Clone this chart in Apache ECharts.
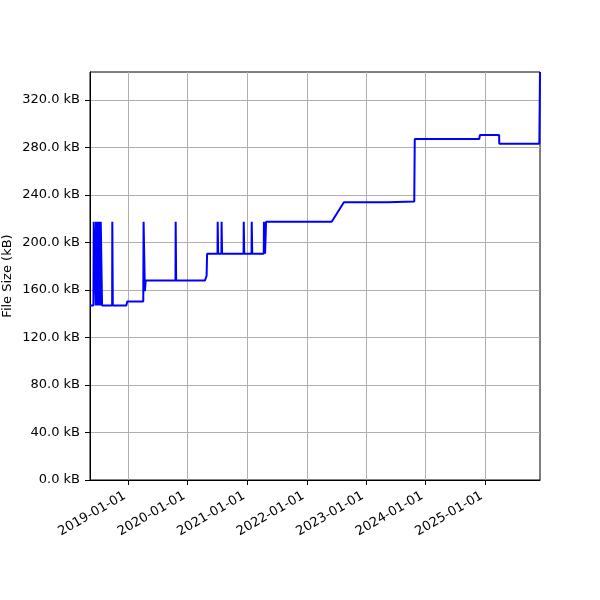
<!DOCTYPE html>
<html>
<head>
<meta charset="utf-8">
<script src="https://cdn.jsdelivr.net/npm/echarts@6/dist/echarts.min.js"></script>
<style>
html,body{margin:0;padding:0;background:#fff;}
#chart{width:600px;height:600px;}
</style>
</head>
<body>
<div id="chart"></div>
<script>
// ---- data ----
const dates = [
  '2018-05-11','2018-06-01','2018-06-03','2018-06-15','2018-06-16','2018-06-17',
  '2018-06-24','2018-06-25','2018-06-26','2018-07-03','2018-07-04','2018-07-05',
  '2018-07-14','2018-07-15','2018-07-16','2018-07-22','2018-07-24',
  '2018-09-24','2018-09-25','2018-09-27','2018-09-28',
  '2018-12-20','2018-12-26',
  '2019-04-03','2019-04-05','2019-04-11','2019-04-13','2019-04-18',
  '2019-10-18','2019-10-19','2019-10-21','2019-10-22',
  '2020-04-16','2020-04-26','2020-04-29',
  '2020-07-02','2020-07-03','2020-07-05','2020-07-06',
  '2020-07-26','2020-07-27','2020-07-29','2020-07-30',
  '2020-12-09','2020-12-10','2020-12-12','2020-12-13',
  '2021-01-27','2021-01-28','2021-01-30','2021-01-31',
  '2021-04-12','2021-04-13','2021-04-19','2021-04-20','2021-04-25','2021-04-26',
  '2022-06-03','2022-08-17',
  '2023-05-14','2023-05-16',
  '2023-10-23','2023-10-26',
  '2024-11-25','2024-11-29',
  '2025-03-27','2025-03-28',
  '2025-11-29','2025-12-03'
];
const sizes = [
  147, 147, 217.5, 217.5, 147, 217.5,
  217.5, 147, 217.5, 217.5, 147, 217.5,
  217.5, 147, 217.5, 217.5, 147,
  147, 217.5, 217.5, 147,
  147, 150.4,
  150.4, 217.5, 217.5, 159, 168.1,
  168.1, 217.5, 217.5, 168.1,
  168.1, 172, 190.6,
  190.6, 217.5, 217.5, 190.6,
  190.6, 217.5, 217.5, 190.6,
  190.6, 217.5, 217.5, 190.6,
  190.6, 217.5, 217.5, 190.6,
  190.6, 217.5, 217.5, 190.6, 190.6, 217.5,
  217.5, 233.9,
  233.9, 234.5,
  234.5, 287.2,
  287.2, 290.5,
  290.5, 283.2,
  283.2, 343.6
];
const yTicks = [0, 40, 80, 120, 160, 200, 240, 280, 320];
const xTickYears = [2019, 2020, 2021, 2022, 2023, 2024, 2025];
const xStart = '2018-05-11';
const xEnd = '2025-12-03';
const yMax = 343.6;

// ---- build ----
function ts(s){ const p = s.split('-').map(Number); return Date.UTC(p[0], p[1]-1, p[2]); }
const seriesData = dates.map((d, i) => [ts(d), sizes[i]]);
const xTicks = xTickYears.map(y => Date.UTC(y, 0, 1));
function pad(n){ return (n < 10 ? '0' : '') + n; }
function fmtDate(v){ const d = new Date(v); return d.getUTCFullYear() + '-' + pad(d.getUTCMonth()+1) + '-' + pad(d.getUTCDate()); }

const FONT = 'DejaVu Sans';
const chart = echarts.init(document.getElementById('chart'), null, {renderer: 'canvas'});
chart.setOption({
  animation: false,
  backgroundColor: '#fff',
  grid: {left: 90, right: 60, top: 72, bottom: 120, show: true, borderColor: '#000', borderWidth: 1,
         backgroundColor: 'transparent', containLabel: false, outerBoundsMode: 'none'},
  xAxis: {
    type: 'value',
    min: ts(xStart),
    max: ts(xEnd),
    axisLine: {show: true, lineStyle: {color: '#000', width: 1}},
    axisTick: {show: true, length: 5, lineStyle: {color: '#000', width: 1}, customValues: xTicks},
    axisLabel: {
      customValues: xTicks,
      rotate: 30, margin: 13, padding: [0, 4, 0, 0],
      fontFamily: FONT, fontSize: 13, color: '#000',
      formatter: v => fmtDate(v),
      hideOverlap: false
    },
    splitLine: {show: true, lineStyle: {color: '#b0b0b0', width: 1}}
  },
  yAxis: {
    type: 'value',
    min: 0, max: yMax, interval: 40,
    name: 'File Size (kB)', nameLocation: 'middle', nameGap: 76, nameRotate: 90,
    nameMoveOverlap: false,
    nameTextStyle: {fontFamily: FONT, fontSize: 13, color: '#000'},
    axisLine: {show: true, lineStyle: {color: '#000', width: 1}},
    axisTick: {show: true, length: 5, lineStyle: {color: '#000', width: 1}, customValues: yTicks},
    axisLabel: {
      customValues: yTicks,
      margin: 10, fontFamily: FONT, fontSize: 13, color: '#000',
      formatter: v => v.toFixed(1) + ' kB'
    },
    splitLine: {show: true, lineStyle: {color: '#b0b0b0', width: 1}}
  },
  series: [{
    type: 'line',
    data: seriesData,
    showSymbol: false,
    symbol: 'none',
    clip: true,
    lineStyle: {color: '#0000ff', width: 2},
    emphasis: {disabled: true}
  }]
});
</script>
</body>
</html>
